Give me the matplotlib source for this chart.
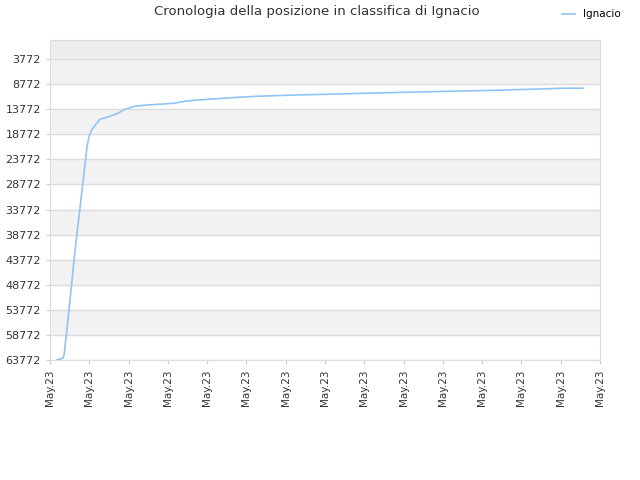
import matplotlib.pyplot as plt

# position values (x in tick units, 0..14)
days = [0.18, 0.33, 0.36, 0.5, 0.64, 0.8, 0.94, 1.0, 1.07, 1.27, 1.53, 1.73, 1.91, 2.16, 2.42,
        2.8, 3.18, 3.44, 3.69, 4.07, 4.45, 4.83, 5.34, 6.11, 7.12, 8.14, 9.16, 10.3, 11.45,
        12.34, 13.1, 13.56]
positions = [63772, 63372, 62772, 52500, 41772, 31000, 21372, 19000, 17772, 15772, 15172, 14572,
             13772, 13172, 12972, 12772, 12572, 12172, 11972, 11772, 11572, 11372, 11172, 10972,
             10772, 10572, 10372, 10172, 9972, 9772, 9572, 9572]
tick_values = list(range(3772, 63773, 5000))
x_labels = ['May.23'] * 15

fig = plt.figure(figsize=(6.4, 4.8), dpi=100)
ax = fig.add_axes([50 / 640, 120 / 480, 550 / 640, 320 / 480])

ax.set_ylim(63772, -28)
ax.set_xlim(0, 14)

# background bands
ax.axhspan(-28, 3772, color='#eeeeee', zorder=0)
for i, v in enumerate(tick_values[:-1]):
    if i % 2 == 0:
        ax.axhspan(v, v + 5000, color='#f2f2f2', zorder=0)

ax.plot(days, positions, color='#90c4f4', linewidth=1.2, label='Ignacio')

ax.set_yticks(tick_values)
ax.set_yticklabels([str(v) for v in tick_values], fontsize=8, color='#333333')
ax.set_xticks(range(15))
ax.set_xticklabels(x_labels, rotation=90, fontsize=7.5, color='#333333')
ax.grid(axis='y', color='#dddddd', linewidth=1)
ax.set_axisbelow(True)
for s in ax.spines.values():
    s.set_color('#dddddd')
ax.tick_params(length=3, color='#cccccc')

fig.text(0.495, 0.975, 'Cronologia della posizione in classifica di Ignacio', ha='center',
         va='center', fontsize=9.5, color='#333333')
fig.legend(loc='upper right', bbox_to_anchor=(0.985, 1.0), frameon=False, fontsize=7.5,
           handlelength=1.2)

fig.savefig('out.png')
